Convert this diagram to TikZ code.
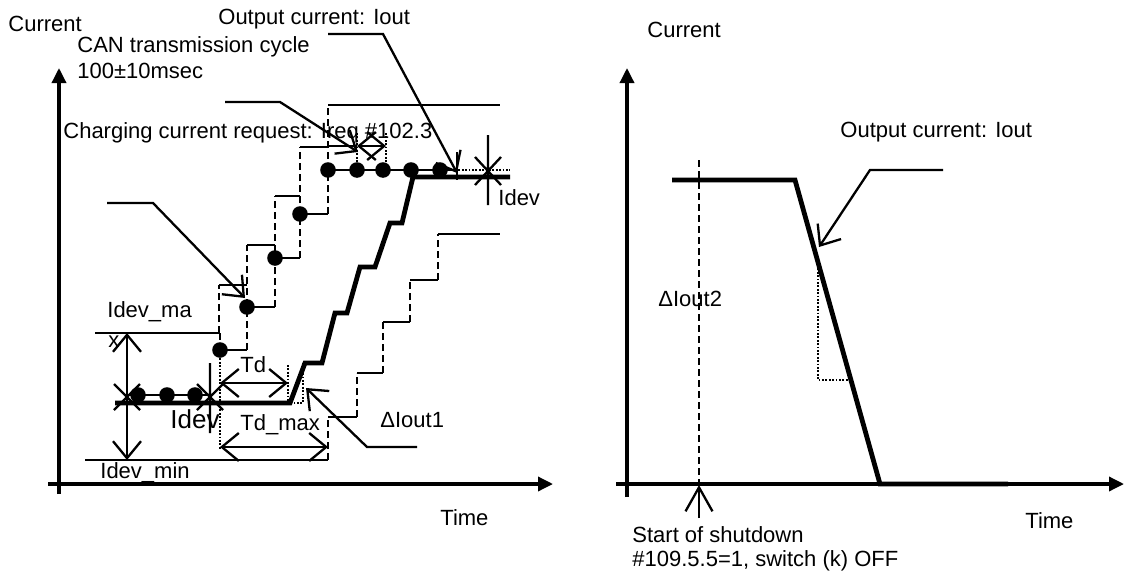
\documentclass[tikz,border=0pt]{standalone}
\usepackage{fontspec}
\setmainfont{Liberation Sans}
\usetikzlibrary{arrows.meta}
\begin{document}
\begin{tikzpicture}[x=0.5pt,y=-0.5pt,
  lbl/.style={anchor=base west,inner sep=0pt,font=\fontsize{11}{13}\selectfont},
  biglbl/.style={anchor=base west,inner sep=0pt,font=\fontsize{13}{15}\selectfont},
  tl/.style={line width=1.15pt},
  bl/.style={line width=2.4pt,line join=miter},
  ax/.style={line width=1.7pt},
  dsh/.style={line width=1.3pt,dash pattern=on 3.5pt off 2pt},
  dtl/.style={line width=1pt,dash pattern=on 0.9pt off 0.8pt},
  smp/.style={circle,fill=black,inner sep=0pt,minimum size=7.8pt},
  axtip/.style={-{Triangle[length=7.5pt,width=7pt]}},
  >={Straight Barb[length=8.5pt,width=14pt,line width=1.15pt]}]
\useasboundingbox (0,0) rectangle (1125,573);

% ---------------- left chart ----------------
\draw[ax,axtip] (59,494) -- (59,68);
\draw[ax,axtip] (48,484) -- (553,484);

% labels
\node[lbl] (curL) at (8,32) {Current};
\node[lbl] (outL) at (218,25) {Output current: Iout};
\node[lbl] (can1) at (77,52) {CAN transmission cycle};
\node[lbl] (can2) at (77,78) {100±10msec};
\node[lbl] (chg) at (63,138) {Charging current request: Ireq \#102.3};
\node[lbl] (idmax) at (107,317) {Idev\_ma};
\node[lbl] (idmaxx) at (108,347) {x};
\node[biglbl] (idevA) at (170,428) {Idev};
\node[lbl] (idmin) at (100,478) {Idev\_min};
\node[lbl] (td) at (240,372) {Td};
\node[lbl] (tdmax) at (240,430) {Td\_max};
\node[lbl] (di1) at (380,427) {ΔIout1};
\node[lbl] (timeL) at (440,525) {Time};
\node[lbl] (idevB) at (498,205) {Idev};

% upper dashed staircase
\draw[tl] (95,333) -- (219,333) (219,285) -- (247,285) (247,245) -- (275,245)
          (275,196) -- (300,196) (300,147) -- (328,147) (328,105) -- (500,105);
\draw[dsh] (219,333) -- (219,285) (247,350) -- (247,245) (275,307) -- (275,196)
           (300,258) -- (300,147) (328,214) -- (328,105);
\draw[dsh] (220,333) -- (220,350);

% lower dashed staircase
\draw[tl] (85,460) -- (328,460) (328,417) -- (357,417) (357,373) -- (383,373)
          (383,322) -- (410,322) (410,280) -- (438,280) (438,234) -- (500,234);
\draw[dsh] (328,460) -- (328,417) (357,417) -- (357,373) (383,373) -- (383,322)
           (410,322) -- (410,280) (438,280) -- (438,234);

% request samples
\draw[tl] (127,395) -- (210,395) (220,350) -- (247,350) (247,307) -- (275,307)
          (275,258) -- (300,258) (300,214) -- (328,214) (328,170) -- (455,170);
\draw[dtl] (455,170) -- (510,170);
\foreach \i/\p in {1/{138,395},2/{167,395},3/{195,395},4/{220,350},5/{247,307},
                   6/{275,258},7/{300,214},8/{328,170},9/{357,170},10/{383,170},
                   11/{411,170},12/{440,170}}
  \node[smp] (s\i) at (\p) {};

% output current
\draw[bl] (115,403) -- (290,403) -- (305,363) -- (322,363) -- (335,313) -- (347,313)
          -- (360,267) -- (375,267) -- (390,223) -- (402,223) -- (413,177) -- (510,177);

% Idev marks
\draw[tl,<->] (127,333) -- (127,460);
\draw[tl] (114,384) -- (140,410) (114,410) -- (140,384);
\draw[tl] (210,363) -- (210,433) (197,384) -- (223,410) (197,410) -- (223,384);
\draw[tl] (488,135) -- (488,205) (475,157) -- (501,185) (475,185) -- (501,157);
\draw[tl] (457,152) -- (457,180);

% Td, Td_max
\draw[dtl] (220,355) -- (220,450);
\draw[dtl] (288,365) -- (288,403);
\draw[dtl] (303,363) -- (303,403) -- (288,403);
\draw[tl,<->] (220,383) -- (288,383);
\draw[tl,<->] (220,447) -- (328,447);

% CAN cycle dimension
\draw[dtl] (357,133) -- (357,165) (386,133) -- (386,165);
\draw[tl] (328,146) -- (357,146);
\draw[tl,<->] (357,146) -- (386,146);

% leaders
\coordinate (a1) at (328,34);  \coordinate (a2) at (383,34);  \coordinate (a3) at (457,173);
\coordinate (b1) at (225,102); \coordinate (b2) at (280,102); \coordinate (b3) at (358,152);
\coordinate (c1) at (107,203); \coordinate (c2) at (153,203); \coordinate (c3) at (245,298);
\coordinate (e1) at (417,447); \coordinate (e2) at (367,447); \coordinate (e3) at (306,388);
\draw[tl,->] (a1) -- (a2) -- (a3);
\draw[tl,->] (b1) -- (b2) -- (b3);
\draw[tl,->] (c1) -- (c2) -- (c3);
\draw[tl,->] (e1) -- (e2) -- (e3);

% ---------------- right chart ----------------
\draw[ax,axtip] (627,497) -- (627,68);
\draw[ax,axtip] (616,484) -- (1124,484);
\node[lbl] (curR) at (647,37) {Current};
\node[lbl] (outR) at (840,137) {Output current: Iout};
\node[lbl] (di2) at (658,306) {ΔIout2};
\node[lbl] (timeR) at (1025,528) {Time};
\node[lbl] (sd1) at (632,542) {Start of shutdown};
\node[lbl] (sd2) at (632,566) {\#109.5.5=1, switch (k) OFF};

\draw[dsh] (699,160) -- (699,484);
\draw[tl,-{Straight Barb[length=12pt,width=13.5pt,line width=1.15pt]}] (699,518) -- (699,485);
\draw[bl] (672,180) -- (795,180) -- (880,484) -- (1008,484);
\draw[dtl] (818,265) -- (818,380) -- (851,380);
\coordinate (f1) at (943,170); \coordinate (f2) at (870,170); \coordinate (f3) at (819,247);
\draw[tl,->] (f1) -- (f2) -- (f3);
\end{tikzpicture}
\end{document}
